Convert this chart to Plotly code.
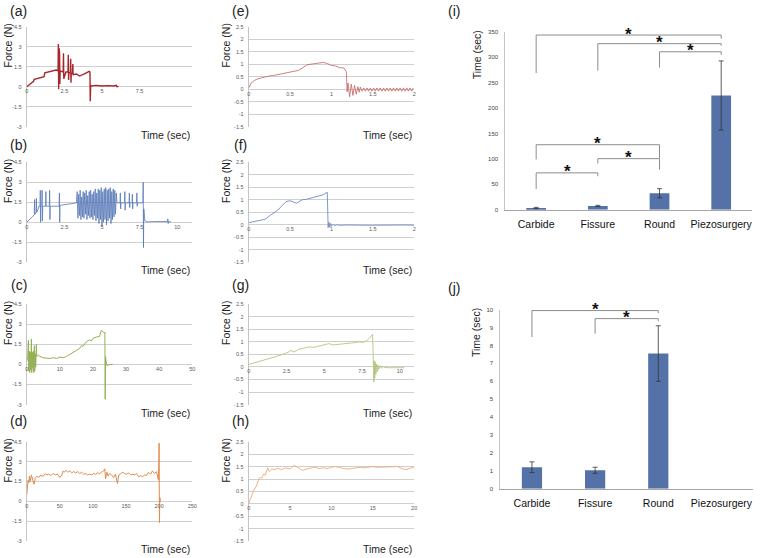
import plotly.graph_objects as go

W, H = 760, 558
FONT = "Liberation Sans, Arial, sans-serif"

# ---------------- force traces: time (s) / force (N) ----------------
a_t = [0, 0.2, 0.45, 0.5, 0.9, 1.15, 1.2, 1.6, 1.95, 2.08, 2.1, 2.12, 2.14, 2.16, 2.18, 2.2, 2.22, 2.3, 2.42, 2.44,
       2.46, 2.6, 2.74, 2.76, 2.78, 2.8, 2.9, 2.92, 2.94, 2.96, 3.04, 3.06, 3.08, 3.3, 3.5, 3.8, 4.15, 4.2, 4.22, 4.25,
       4.3, 4.6, 5.0, 5.4, 5.8, 5.95, 6.0, 6.1]
a_f = [0, 0.2, 0.4, 0.55, 0.65, 0.75, 1.05, 1.15, 1.25, 1.2, 3.2, -0.2, 2.9, -0.1, 2.6, 0.2, 1.2, 1.15, 1.1, 2.5,
       0.6, 1.1, 1.1, 2.4, 0.5, 1.05, 1.05, 2.1, 0.3, 1.0, 1.0, 1.7, 0.9, 0.95, 0.8, 0.95, 1.15, 1.1, -1.1, 0.1,
       0.05, 0.1, 0.05, 0.08, 0.05, 0.1, 0.0, 0.02]

b_t = [0, 0.3, 0.5, 0.52, 0.54, 0.62, 0.64, 0.66, 0.75, 0.8, 0.88, 0.9, 0.92, 0.94, 1.0, 1.02, 1.04, 1.06, 1.25, 1.27,
       1.29, 1.5, 1.52, 1.54, 1.56, 2.15, 2.17, 2.19, 2.21, 2.3, 3.0, 3.3,
       3.35, 3.4, 3.45, 3.5, 3.55, 3.6, 3.65, 3.7, 3.75, 3.8, 3.85, 3.9, 3.95, 4.0, 4.05, 4.1, 4.15, 4.2, 4.25, 4.3,
       4.35, 4.4, 4.45, 4.5, 4.55, 4.6, 4.65, 4.7, 4.75, 4.8, 4.85, 4.9, 4.95, 5.0, 5.05, 5.1, 5.15, 5.2, 5.25, 5.3,
       5.35, 5.4, 5.45, 5.5, 5.55, 5.6, 5.65, 5.7, 5.75, 5.8, 5.85, 5.9, 5.95, 6.0,
       6.2, 6.22, 6.24, 6.26, 6.5, 6.52, 6.54, 6.56, 6.8, 6.82, 6.84, 6.86, 7.0, 7.02, 7.04, 7.06, 7.3, 7.32, 7.34,
       7.36, 7.72, 7.74, 7.76, 7.78, 7.85, 8.0, 8.5, 9.0, 9.35, 9.38, 9.4, 9.42, 9.6]
b_f = [0, 0.3, 0.55, 1.7, 0.6, 0.7, 1.8, 0.75, 0.95, 1.2, 1.2, 2.4, 0.0, 1.2, 1.2, 2.4, 0.1, 1.2, 1.2, 2.3,
       1.2, 1.2, 2.4, 0.2, 1.2, 1.2, 2.2, 0.0, 1.25, 1.28, 1.4, 1.45,
       2.3, 0.3, 2.1, 0.5, 2.4, 0.2, 1.9, 0.4, 2.3, 0.3, 2.2, 0.6, 2.4, 0.2, 2.0, 0.5, 2.3, 0.3, 2.4, 0.4,
       2.1, 0.2, 2.3, 0.5, 2.5, 0.1, 2.2, 0.3, 2.5, -0.1, 2.4, 0.2, 2.6, -0.3, 2.3, 0.0, 2.5, 0.2, 2.6, -0.2,
       2.4, 0.1, 2.5, 0.3, 2.6, -0.1, 2.3, 0.2, 2.5, 0.4, 2.4, 0.6, 2.2, 1.45,
       1.45, 2.2, 1.0, 1.45, 1.45, 2.3, 0.9, 1.45, 1.45, 2.2, 1.1, 1.45, 1.45, 2.1, 1.0, 1.45, 1.45, 2.2, 1.2,
       1.45, 1.45, 3.0, -1.9, 1.0, 0.1, 0.02, 0.05, 0.03, 0.05, 0.25, -0.1, 0.05, 0.02]

c_t = [0, 0.3, 0.5, 0.6, 0.8, 0.9, 1.1, 1.2, 1.4, 1.5, 1.7, 1.8, 2.0, 2.1, 2.3, 2.4, 2.6, 2.7, 2.9, 3.0,
       3.5, 4, 5, 6, 7, 8, 9, 10, 11, 12, 13, 14, 15, 16, 16.5, 17, 18, 19, 19.5, 20,
       21, 22, 22.5, 23, 23.5, 23.6, 23.7, 23.8, 23.9, 24.0, 24.3, 25, 26]
c_f = [0.2, 0.6, 1.8, -0.5, 1.0, -0.6, 0.9, -0.4, 1.9, -0.6, 0.9, -0.3, 1.0, -0.6, 1.4, -0.5, 0.8, -0.2, 1.5, 0.6,
       0.7, 0.6, 0.5, 0.45, 0.45, 0.5, 0.45, 0.55, 0.5, 0.6, 0.75, 0.9, 1.05, 1.2, 1.4, 1.35, 1.7, 1.85, 1.75, 1.95,
       2.05, 2.1, 2.55, 2.45, 2.35, 2.4, -2.6, 0.6, -0.6, 0.2, -0.1, 0.0, 0.0]

d_t = [0, 1, 2, 3, 4, 5, 7, 9, 11, 13, 15, 18, 20, 25, 28, 30, 33, 36, 40, 43, 46, 50, 53, 55, 57, 59, 62, 65,
       68, 71, 74, 77, 80, 83, 86, 89, 92, 95, 98, 101, 104, 107, 110, 113, 116, 118, 119, 121, 123, 125, 128,
       131, 134, 137, 139, 142, 145, 148, 151, 154, 157, 160, 163, 166, 169, 172, 175, 178, 181, 184, 187, 190,
       193, 196, 198, 199, 200, 200.5, 201, 202]
d_f = [0.5, 1.0, 1.6, 1.4, 1.9, 1.5, 2.0, 1.6, 1.3, 1.8, 1.9, 1.8, 1.95, 1.9, 2.1, 2.0, 2.05, 1.95, 2.1, 2.0,
       2.05, 1.8, 2.0, 2.3, 2.2, 2.35, 2.2, 2.3, 2.15, 2.25, 2.15, 2.25, 2.1, 2.2, 2.05, 2.1, 2.0, 2.05, 2.0, 2.1,
       2.05, 2.15, 2.1, 2.2, 2.3, 2.45, 1.7, 2.2, 1.9, 2.1, 2.0, 1.8, 2.05, 1.35, 2.0, 2.1, 2.2, 2.1, 2.05, 2.15,
       2.0, 2.05, 2.0, 2.1, 1.85, 1.95, 1.85, 2.0, 1.95, 2.2, 2.05, 2.3, 2.1, 2.25, 1.9, 1.6, 4.4, -1.6, 0.3, 0.0]

e_t = [0, 0.03, 0.07, 0.1, 0.15, 0.2, 0.25, 0.3, 0.35, 0.4, 0.45, 0.5, 0.55, 0.6, 0.65, 0.7, 0.75, 0.8, 0.85,
       0.9, 0.95, 1.0, 1.05, 1.1, 1.15, 1.18, 1.19, 1.2, 1.22, 1.24, 1.26, 1.28, 1.3, 1.32, 1.335, 1.35,
       1.37, 1.39, 1.41, 1.43, 1.45, 1.47, 1.49, 1.51, 1.53, 1.55, 1.57, 1.59, 1.61, 1.63, 1.65, 1.67, 1.69,
       1.71, 1.73, 1.75, 1.77, 1.79, 1.81, 1.83, 1.85, 1.87, 1.89, 1.91, 1.93, 1.95, 1.97, 1.99]
e_f = [0.05, 0.25, 0.35, 0.4, 0.45, 0.5, 0.53, 0.55, 0.58, 0.6, 0.63, 0.66, 0.7, 0.75, 0.85, 0.97, 1.0, 1.03,
       1.05, 1.07, 1.03, 0.95, 0.93, 0.86, 0.85, 0.7, -0.1, 0.25, -0.3, 0.2, -0.25, 0.15, -0.2, 0.1, -0.12, 0.08,
       -0.08, 0.05, -0.08, 0.05, -0.08, 0.05, -0.08, 0.05, -0.08, 0.05, -0.08, 0.05, -0.08, 0.05, -0.08, 0.05,
       -0.08, 0.05, -0.08, 0.05, -0.08, 0.05, -0.08, 0.05, -0.08, 0.05, -0.08, 0.05, -0.08, 0.05, -0.08, 0.05]

f_t = [0, 0.05, 0.1, 0.15, 0.2, 0.25, 0.3, 0.35, 0.4, 0.45, 0.5, 0.55, 0.58, 0.62, 0.65, 0.7, 0.75, 0.8, 0.85,
       0.9, 0.95, 0.96, 0.97, 0.98, 0.99, 1.0, 1.02, 1.04, 1.06, 1.1, 1.2, 1.3, 1.4, 1.5, 1.6, 1.7, 1.8, 1.9, 2.0]
f_f = [0.08, 0.12, 0.15, 0.18, 0.22, 0.35, 0.48, 0.58, 0.75, 0.92, 0.96, 0.88, 0.86, 0.95, 1.0, 1.02, 1.06, 1.1,
       1.15, 1.2, 1.3, -0.12, 0.1, -0.1, 0.05, -0.06, 0.02, -0.04, 0.0, -0.02, -0.01, -0.03, -0.02, -0.02, -0.01,
       -0.02, -0.02, -0.01, -0.02]

g_t = [0, 0.5, 1, 1.5, 2, 2.3, 2.6, 2.8, 3.0, 3.3, 3.6, 4.0, 4.3, 4.6, 5.0, 5.3, 5.6, 6.0, 6.3, 6.6, 7.0, 7.3,
       7.6, 7.8, 8.0, 8.2, 8.25, 8.28, 8.31, 8.34, 8.37, 8.41, 8.45, 8.5, 8.55, 8.6, 8.7, 8.8, 8.9, 9.0, 9.3, 9.6,
       10.0, 10.3]
g_f = [0.1, 0.18, 0.27, 0.35, 0.45, 0.52, 0.58, 0.66, 0.6, 0.7, 0.75, 0.8, 0.78, 0.82, 0.9, 0.93, 0.88, 0.9,
       0.93, 0.95, 0.97, 1.0, 0.98, 1.05, 1.15, 1.3, 0.3, -0.6, 0.25, -0.45, 0.2, -0.3, 0.12, -0.2, 0.08, -0.1,
       0.05, -0.05, 0.02, -0.02, -0.03, -0.02, -0.03, -0.03]

h_t = [0, 0.3, 0.6, 0.9, 1.1, 1.3, 1.6, 1.8, 2.0, 2.3, 2.5, 2.8, 3.0, 3.5, 4.0, 4.5, 5.0, 5.5, 6.0, 6.5, 7.0,
       7.5, 8.0, 8.5, 9.0, 9.5, 10.0, 10.5, 11.0, 11.5, 12.0, 12.5, 13.0, 13.5, 14.0, 14.5, 15.0, 15.5, 16.0,
       16.5, 17.0, 17.5, 18.0, 18.5, 19.0, 19.5, 20.0]
h_f = [0.0, 0.3, 0.55, 0.7, 0.85, 1.05, 1.05, 1.2, 1.15, 1.45, 1.3, 1.42, 1.38, 1.42, 1.38, 1.45, 1.4, 1.55,
       1.45, 1.35, 1.4, 1.45, 1.48, 1.42, 1.45, 1.42, 1.48, 1.5, 1.45, 1.42, 1.4, 1.43, 1.45, 1.47, 1.45, 1.48,
       1.5, 1.47, 1.48, 1.5, 1.5, 1.49, 1.5, 1.42, 1.38, 1.43, 1.48]

# axis ticks
left_yticks = [-3, -1.5, 0, 1.5, 3, 4.5]
left_ytext = ["-3", "-1.5", "0", "1.5", "3", "4.5"]
mid_yticks = [-1.5, -1, -0.5, 0, 0.5, 1, 1.5, 2, 2.5]
mid_ytext = ["-1.5", "-1", "-0.5", "0", "0.5", "1", "1.5", "2", "2.5"]

# ---------------- bar panels ----------------
cats = ["Carbide", "Fissure", "Round", "Piezosurgery"]
i_mean = [3.5, 7.5, 32.5, 225]
i_err = [1.2, 1.2, 9, 68]
j_mean = [1.2, 1.03, 7.55, None]
j_err = [0.3, 0.17, 1.55, None]

# significance brackets: (left cat, right cat, bar height, left foot, right foot)
i_brackets = [(0, 3, 344, 269, 337), (1, 3, 327, 274, 323), (2, 3, 311, 280, 305),
              (0, 2, 128, 99, 102), (1, 2, 100.6, 91, 79), (0, 1, 72.6, 41, 66)]
j_brackets = [(0, 2, 9.95, 8.47, 9.8), (1, 2, 9.5, 8.66, 9.35)]


def xd(a, b):
    return [a / W, b / W]


def yd(top, bottom):
    return [1 - bottom / H, 1 - top / H]


cols = [(25, 192), (249, 416)]
rows = [(24, 125), (161, 262), (304.5, 406), (443.5, 544)]

# label, t, f, colour, width, xmax, xticks, col, row
panels = [
    ("(a)", a_t, a_f, "#a5292c", 1.4, 11, [0, 2.5, 5, 7.5], 0, 0),
    ("(b)", b_t, b_f, "#5577b8", 0.8, 11, [0, 2.5, 5, 7.5, 10], 0, 1),
    ("(c)", c_t, c_f, "#93b155", 1.0, 50, [0, 10, 20, 30, 40, 50], 0, 2),
    ("(d)", d_t, d_f, "#e08c4c", 1.0, 250, [0, 50, 100, 150, 200, 250], 0, 3),
    ("(e)", e_t, e_f, "#c4615f", 0.8, 2, [0, 0.5, 1, 1.5, 2], 1, 0),
    ("(f)", f_t, f_f, "#6f8cc4", 0.9, 2, [0, 0.5, 1, 1.5, 2], 1, 1),
    ("(g)", g_t, g_f, "#b2c67e", 0.9, 10.95, [0, 2.5, 5, 7.5, 10], 1, 2),
    ("(h)", h_t, h_f, "#f0aa7c", 0.9, 20, [0, 5, 10, 15, 20], 1, 3),
]

fig = go.Figure()
layout = {}
annotations = []
tick_font = dict(size=5.5, color="#595959", family=FONT)
title_font = dict(size=10.5, color="#222", family=FONT)

for k, (label, t, f, color, lw, xmax, xticks, col, row) in enumerate(panels, start=1):
    x0, x1 = cols[col]
    top, bottom = rows[row]
    ymin, ymax = (-3, 4.5) if col == 0 else (-1.5, 2.5)
    yt, ytt = (left_yticks, left_ytext) if col == 0 else (mid_yticks, mid_ytext)
    ydom = yd(top, bottom)
    zero_pos = ydom[0] + (0 - ymin) / (ymax - ymin) * (ydom[1] - ydom[0])
    fig.add_trace(go.Scatter(x=t, y=f, mode="lines", line=dict(color=color, width=lw),
                             xaxis=f"x{k}", yaxis=f"y{k}", showlegend=False, hoverinfo="skip"))
    layout[f"xaxis{k}"] = dict(domain=xd(x0, x1), range=[0, xmax], anchor="free", position=zero_pos,
                               showgrid=False, zeroline=False, showline=False, ticks="",
                               tickvals=xticks, ticktext=[f"{v:g}" for v in xticks], tickfont=tick_font)
    layout[f"yaxis{k}"] = dict(domain=ydom, range=[ymin, ymax], anchor=f"x{k}", showgrid=True,
                               gridcolor="#cfcfcf", gridwidth=1, zeroline=False, showline=True,
                               linecolor="#c4c4c4", linewidth=1, ticks="", tickvals=yt, ticktext=ytt,
                               tickfont=tick_font, ticklabelstandoff=3)
    lab_x = 17 if col == 0 else 241
    lab_y = [8, 144, 285, 423][row]
    annotations.append(dict(text=label, x=lab_x / W, y=1 - lab_y / H, xref="paper", yref="paper",
                            showarrow=False, xanchor="center", yanchor="middle",
                            font=dict(size=14, color="#222", family=FONT)))
    annotations.append(dict(text="Force (N)", x=(6 if col == 0 else 226) / W, y=1 - (top + 19) / H,
                            xref="paper", yref="paper", showarrow=False, textangle=-90,
                            xanchor="center", yanchor="middle", font=title_font))
    annotations.append(dict(text="Time (sec)", x=x1 / W, y=1 - (bottom + 8) / H, xref="paper",
                            yref="paper", showarrow=False, xanchor="right", yanchor="middle",
                            font=title_font))

bar_color = "#5472a8"
bar_specs = [
    (9, "(i)", i_mean, i_err, i_brackets, (508, 757), (29.3, 209), [0, 350], 50, 8),
    (10, "(j)", j_mean, j_err, j_brackets, (503, 758), (310, 491), [0, 10], 1, 288),
]
for k, label, mean, err, brackets, (x0, x1), (top, bottom), yr, dt, lab_y in bar_specs:
    fig.add_trace(go.Bar(x=cats, y=mean, width=0.32, marker=dict(color=bar_color, line=dict(width=0)),
                         error_y=dict(type="data", array=err, color="#333", thickness=0.8, width=2.5),
                         xaxis=f"x{k}", yaxis=f"y{k}", showlegend=False, hoverinfo="skip"))
    for l, r, yb, yl, yr_ in brackets:
        fig.add_trace(go.Scatter(x=[cats[l], cats[l], cats[r], cats[r]], y=[yl, yb, yb, yr_], mode="lines",
                                 line=dict(color="#8c8c8c", width=1), xaxis=f"x{k}", yaxis=f"y{k}",
                                 showlegend=False, hoverinfo="skip"))
        annotations.append(dict(text="<b>*</b>", x=(l + r) / 2, y=yb, xref=f"x{k}", yref=f"y{k}",
                                showarrow=False, xanchor="center", yanchor="middle", yshift=1,
                                font=dict(size=17, color="#111", family=FONT)))
    layout[f"xaxis{k}"] = dict(domain=xd(x0, x1), anchor=f"y{k}", type="category", showline=True,
                               linecolor="#a6a6a6", linewidth=1, ticks="", showgrid=False,
                               tickfont=dict(size=10.5, color="#111", family=FONT), ticklabelstandoff=5)
    layout[f"yaxis{k}"] = dict(domain=yd(top, bottom), anchor=f"x{k}", range=yr, dtick=dt, showgrid=False,
                               zeroline=False, showline=True, linecolor="#c4c4c4", linewidth=1, ticks="",
                               tickfont=dict(size=6, color="#444", family=FONT), ticklabelstandoff=5)
    annotations.append(dict(text=label, x=456 / W, y=1 - lab_y / H, xref="paper", yref="paper",
                            showarrow=False, xanchor="center", yanchor="middle",
                            font=dict(size=14, color="#222", family=FONT)))
    annotations.append(dict(text="Time (sec)", x=479 / W, y=1 - (top + 23) / H, xref="paper", yref="paper",
                            showarrow=False, textangle=-90, xanchor="center", yanchor="middle",
                            font=title_font))

fig.update_layout(
    width=W, height=H, margin=dict(l=0, r=0, t=0, b=0),
    paper_bgcolor="white", plot_bgcolor="white", showlegend=False,
    bargap=0.68, font=dict(family=FONT), annotations=annotations, **layout,
)
# drop the browser's default page margin so the figure sits at the window origin
fig.write_html("out.html", config={"displayModeBar": False},
               post_script="document.body.style.margin='0';")
